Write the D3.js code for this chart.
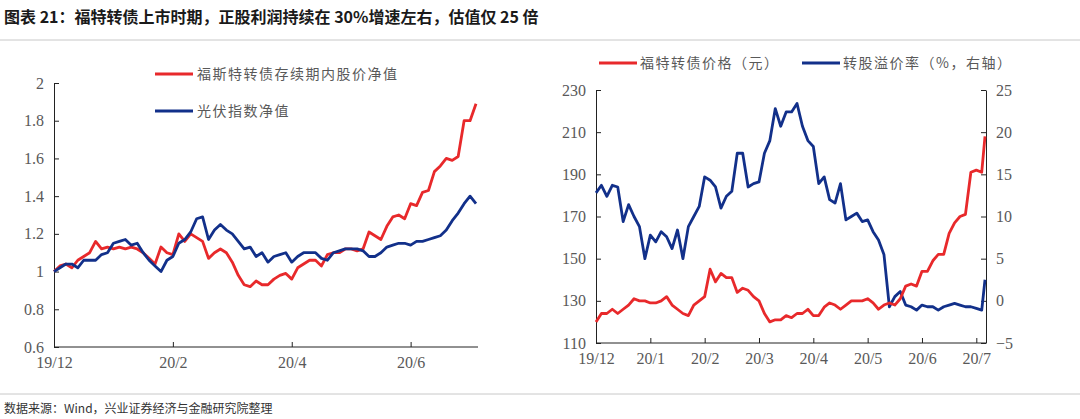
<!DOCTYPE html><html><head><meta charset="utf-8">
<script src="https://cdn.jsdelivr.net/npm/d3@7"></script>
<style>body{margin:0;background:#fff}</style></head><body>
<svg id="c" width="1080" height="419"></svg>
<script>
const title="图表 21：福特转债上市时期，正股利润持续在 30%增速左右，估值仅 25 倍";
const source="数据来源：Wind，兴业证券经济与金融研究院整理";
// left chart
const leftX=d3.range(0,72).map(i=>i/10);
const leftTicks=["19/12","20/2","20/4","20/6"];
const leftTickPos=[0,2,4,6];
const fordNav=[1.0,1.03,1.04,1.02,1.06,1.08,1.10,1.16,1.12,1.13,1.12,1.13,1.12,1.13,1.12,1.10,1.07,1.04,1.13,1.10,1.09,1.20,1.16,1.20,1.18,1.16,1.07,1.10,1.12,1.10,1.05,0.98,0.93,0.92,0.95,0.93,0.93,0.96,0.98,0.99,0.96,1.02,1.04,1.06,1.06,1.03,1.09,1.10,1.10,1.12,1.12,1.11,1.12,1.21,1.19,1.17,1.24,1.29,1.30,1.28,1.36,1.35,1.42,1.43,1.53,1.56,1.60,1.59,1.61,1.80,1.80,1.89];
const pvNav=[1.0,1.02,1.04,1.04,1.02,1.06,1.06,1.06,1.09,1.10,1.15,1.16,1.17,1.14,1.15,1.10,1.06,1.03,1.00,1.06,1.08,1.15,1.17,1.21,1.28,1.29,1.17,1.22,1.25,1.22,1.20,1.16,1.12,1.13,1.08,1.10,1.05,1.08,1.09,1.10,1.05,1.08,1.10,1.10,1.10,1.07,1.06,1.10,1.11,1.12,1.12,1.12,1.11,1.08,1.08,1.10,1.13,1.14,1.15,1.15,1.14,1.16,1.16,1.17,1.18,1.19,1.22,1.27,1.31,1.36,1.40,1.36];
const leftNames=["福斯特转债存续期内股价净值","光伏指数净值"];
// right chart
const rightX=d3.range(0,72).map(i=>i/10).concat([7.16]);
const rightTicks=["19/12","20/1","20/2","20/3","20/4","20/5","20/6","20/7"];
const bondPrice=[120,124,124,126,124,126,128,131,130,130,129,129,130,132,128,126,124,123,128,130,132,145,139,143,141,141,134,136,135,132,130,124,120,121,121,123,122,124,124,126,123,123,127,129,128,126,128,130,130,130,131,129,126,128,129,128,131,137,138,137,144,144,149,152,152,162,167,170,171,191,192,191,208];
const premium=[12.8,13.7,12.4,13.7,13.5,9.4,11.4,10,8.8,5,7.8,7.0,8.2,7.6,6.2,8.4,5,8.8,10,11.2,14.7,14.3,13.5,11,12.4,13,17.5,17.5,13.5,13.9,14.1,17.5,19,22.8,20.7,22.4,22.4,23.4,20.7,19,18.3,13.9,14.7,12,11.6,13.9,9.6,10,10.4,9.4,9.6,8.2,7.2,5.5,-0.7,0.5,1.1,-0.5,-0.7,-1.1,-0.5,-0.7,-0.7,-1.1,-0.7,-0.5,-0.3,-0.5,-0.7,-0.7,-0.9,-1.1,2.5];
const rightNames=["福特转债价格（元）","转股溢价率（%，右轴）"];
const RED="#e8292b",BLUE="#12308a",GRAY="#595959";
const svg=d3.select("#c");
const serif="'Liberation Serif','Times New Roman',serif";
const cjk="'Noto Sans CJK SC',sans-serif";
svg.append("text").attr("x",4).attr("y",23).text(title).attr("font-family",cjk).attr("font-weight","bold").attr("font-size",16).attr("fill","#1a1a1a");
svg.append("line").attr("x1",0).attr("x2",1080).attr("y1",40).attr("y2",40).attr("stroke","#c8c8c8");
svg.append("line").attr("x1",0).attr("x2",1080).attr("y1",394).attr("y2",394).attr("stroke","#c8c8c8");
svg.append("text").attr("x",4).attr("y",413).text(source).attr("font-family",cjk).attr("font-size",12).attr("fill","#333");
function styleAxis(g){g.selectAll("path,line").attr("stroke","#222");g.selectAll("text").attr("font-family",serif).attr("font-size",16).attr("fill",GRAY);}
// left
const xL=d3.scaleLinear().domain([0,7.1]).range([54,476]);
const yL=d3.scaleLinear().domain([0.6,2]).range([347,83]);
svg.append("g").attr("transform","translate(54,0)").call(d3.axisLeft(yL).tickValues(d3.range(0.6,2.01,0.2)).tickFormat(d=>+d.toFixed(1)).tickSize(-5).tickSizeOuter(0).tickPadding(10)).call(styleAxis);
const gxL=svg.append("g").attr("transform","translate(0,347)").call(d3.axisBottom(xL).tickValues(leftTickPos).tickFormat((d,i)=>leftTicks[i]).tickSize(-5).tickSizeOuter(0).tickPadding(10)).call(styleAxis);
gxL.select(".domain").attr("d","M54,0H478");
const lineL=d3.line().x((d,i)=>xL(leftX[i])).y(d=>yL(d));
[[fordNav,RED],[pvNav,BLUE]].forEach(([s,c])=>svg.append("path").attr("d",lineL(s)).attr("fill","none").attr("stroke",c).attr("stroke-width",2.8).attr("stroke-linejoin","round"));
leftNames.forEach((n,i)=>{const y=74+i*37;svg.append("line").attr("x1",155).attr("x2",193).attr("y1",y).attr("y2",y).attr("stroke",[RED,BLUE][i]).attr("stroke-width",3);
svg.append("text").attr("x",197).attr("y",y+5).text(n).attr("font-family",cjk).attr("font-size",14).attr("fill",GRAY).attr("letter-spacing",1.5);});
// right
const xR=d3.scaleLinear().domain([0,7.16]).range([596,985]);
const yR1=d3.scaleLinear().domain([110,230]).range([343,90]);
const yR2=d3.scaleLinear().domain([-5,25]).range([343,90]);
svg.append("g").attr("transform","translate(596,0)").call(d3.axisLeft(yR1).tickValues(d3.range(110,231,20)).tickSize(-5).tickSizeOuter(0).tickPadding(10)).call(styleAxis);
svg.append("g").attr("transform","translate(986,0)").call(d3.axisRight(yR2).tickValues(d3.range(-5,26,5)).tickSize(-5).tickSizeOuter(0).tickPadding(10)).call(styleAxis);
const gxR=svg.append("g").attr("transform","translate(0,343)").call(d3.axisBottom(xR).tickValues(d3.range(0,8)).tickFormat((d,i)=>rightTicks[i]).tickSize(-5).tickSizeOuter(0).tickPadding(10)).call(styleAxis);
gxR.select(".domain").attr("d","M596,0H986");
svg.append("path").attr("d",d3.line().x((d,i)=>xR(rightX[i])).y(d=>yR2(d))(premium)).attr("fill","none").attr("stroke",BLUE).attr("stroke-width",2.8).attr("stroke-linejoin","round");
svg.append("path").attr("d",d3.line().x((d,i)=>xR(rightX[i])).y(d=>yR1(d))(bondPrice)).attr("fill","none").attr("stroke",RED).attr("stroke-width",2.8).attr("stroke-linejoin","round");
[[599,RED],[802,BLUE]].forEach(([x,c],i)=>{svg.append("line").attr("x1",x).attr("x2",x+38).attr("y1",63).attr("y2",63).attr("stroke",c).attr("stroke-width",3);
svg.append("text").attr("x",x+41).attr("y",68).text(rightNames[i]).attr("font-family",cjk).attr("font-size",14).attr("fill",GRAY).attr("letter-spacing",1.5);});
</script></body></html>
